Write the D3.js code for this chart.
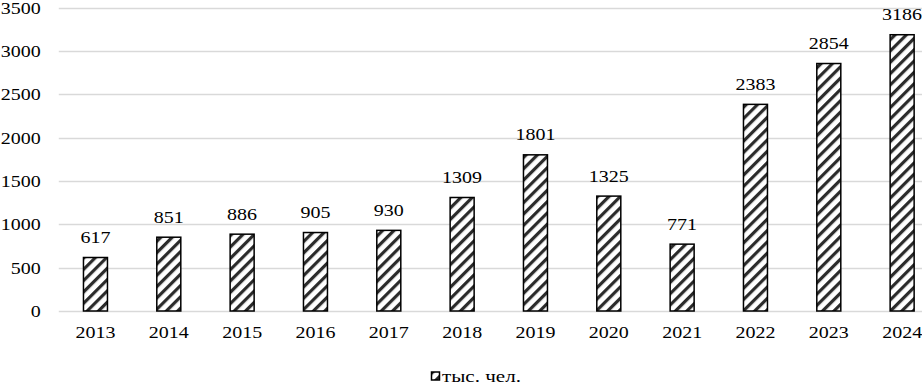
<!DOCTYPE html>
<html>
<head>
<meta charset="utf-8">
<script src="https://cdn.jsdelivr.net/npm/d3@7"></script>
<style>
  body { margin: 0; background: #fff; }
  svg { display: block; }
</style>
</head>
<body>
<div id="chart"></div>
<script>
// chart values
let years = ['2013', '2014', '2015', '2016', '2017', '2018', '2019', '2020', '2021', '2022', '2023', '2024'];
let people = [617, 851, 886, 905, 930, 1309, 1801, 1325, 771, 2383, 2854, 3186];
let yTicks = [0, 500, 1000, 1500, 2000, 2500, 3000, 3500];
let seriesName = 'тыс. чел.';

let width = 922, height = 385;
let margin = {top: 7.5, left: 58.8, bottom: 74, right: 0};
let plotRight = 938.8; // plot area runs past the right edge in the source
let serif = '"Liberation Serif", "Times New Roman", serif';
let fontSize = 17.5;
let digitW = 10; // source text is a little wider than the font, so stretch it

let svg = d3.select('#chart')
  .append('svg')
    .attr('width', width)
    .attr('height', height)
    .style('font-family', serif)
    .style('font-size', fontSize + 'px');

// widen numbers the way the source shows them
function stretch(sel) {
  sel.attr('textLength', function() { return this.textContent.length * digitW; })
    .attr('lengthAdjust', 'spacingAndGlyphs');
}

// hatch pattern for the bars
let defs = svg.append('defs');
let hatch = defs.append('pattern')
  .attr('id', 'hatch')
  .attr('patternUnits', 'userSpaceOnUse')
  .attr('width', 8)
  .attr('height', 8)
  .attr('patternTransform', 'rotate(45)');
hatch.append('rect')
  .attr('width', 8).attr('height', 8).attr('fill', '#fff');
hatch.append('rect')
  .attr('x', 0).attr('y', 0)
  .attr('width', 3.2).attr('height', 8)
  .attr('fill', '#2b2b2b');

let x = d3.scaleBand()
  .domain(years)
  .range([margin.left, plotRight])
  .paddingInner(0)
  .paddingOuter(0);

let y = d3.scaleLinear()
  .domain([0, 3500])
  .range([height - margin.bottom, margin.top]);

// gridlines
svg.append('g')
  .selectAll('line')
  .data(yTicks)
  .enter()
  .append('line')
    .attr('x1', margin.left)
    .attr('x2', width)
    .attr('y1', d => Math.round(y(d)) + 0.5)
    .attr('y2', d => Math.round(y(d)) + 0.5)
    .attr('stroke', '#d9d9d9')
    .attr('stroke-width', 1.3);

// y axis labels
let yAxis = svg.append('g')
  .attr('transform', 'translate(' + margin.left + ',0)')
  .call(d3.axisLeft(y).tickValues(yTicks).tickSize(0).tickPadding(18).tickFormat(d3.format('d')));
yAxis.select('.domain').remove();
yAxis.attr('font-family', null).attr('font-size', null);
yAxis.selectAll('text').attr('fill', '#000').call(stretch);

// x axis labels
let xAxis = svg.append('g')
  .attr('transform', 'translate(0,' + y(0) + ')')
  .call(d3.axisBottom(x).tickSize(0).tickPadding(15));
xAxis.select('.domain').remove();
xAxis.attr('font-family', null).attr('font-size', null);
xAxis.selectAll('text').attr('fill', '#000').call(stretch);

// bars
let barW = 24;
let rows = years.map((yr, i) => ({year: yr, value: people[i]}));
svg.append('g')
  .selectAll('rect')
  .data(rows)
  .enter()
  .append('rect')
    .attr('x', d => x(d.year) + x.bandwidth() / 2 - barW / 2)
    .attr('y', d => y(d.value))
    .attr('width', barW)
    .attr('height', d => y(0) - y(d.value))
    .attr('fill', 'url(#hatch)')
    .attr('stroke', '#000')
    .attr('stroke-width', 1.5);

// value labels
svg.append('g')
  .selectAll('text')
  .data(rows)
  .enter()
  .append('text')
    .attr('x', d => x(d.year) + x.bandwidth() / 2)
    .attr('y', d => y(d.value) - 14.5)
    .attr('text-anchor', 'middle')
    .text(d => d.value)
    .call(stretch);

// legend
let legend = svg.append('g').attr('transform', 'translate(431,371.5)');
legend.append('rect')
  .attr('x', 0.5).attr('y', 0.5)
  .attr('width', 8).attr('height', 8)
  .attr('fill', 'url(#hatch)')
  .attr('stroke', '#000')
  .attr('stroke-width', 1.5);
legend.append('text')
  .attr('x', 11)
  .attr('y', 10)
  .style('font-size', '17.5px')
  .attr('textLength', 79)
  .attr('lengthAdjust', 'spacingAndGlyphs')
  .text(seriesName);
</script>
</body>
</html>
